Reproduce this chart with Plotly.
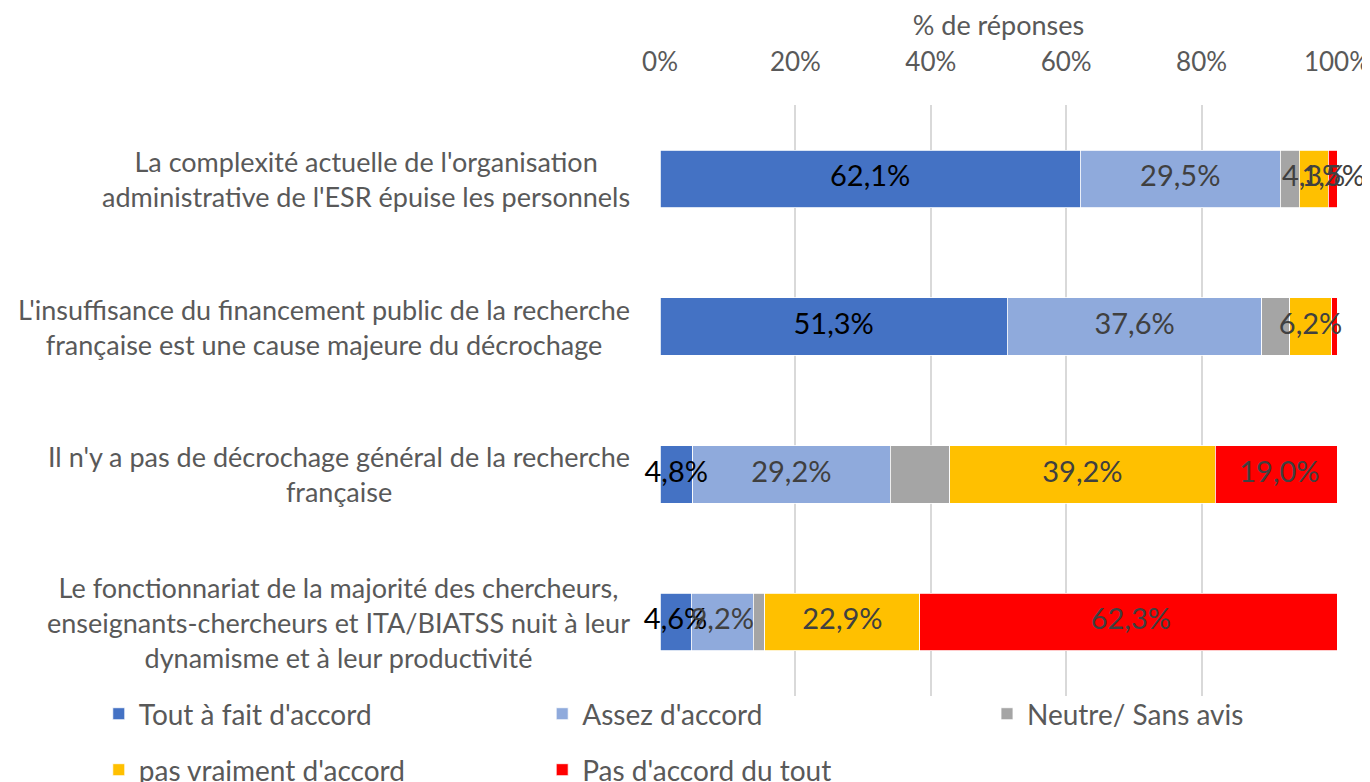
import plotly.graph_objects as go

categories = [
    "La complexité actuelle de l'organisation<br>administrative de l'ESR épuise les personnels",
    "L'insuffisance du financement public de la recherche<br>française est une cause majeure du décrochage",
    "Il n'y a pas de décrochage général de la recherche<br>française",
    "Le fonctionnariat de la majorité des chercheurs,<br>enseignants-chercheurs et ITA/BIATSS nuit à leur<br>dynamisme et à leur productivité",
]
series_names = ["Tout à fait d'accord", "Assez d'accord", "Neutre/ Sans avis",
                "pas vraiment d'accord", "Pas d'accord du tout"]
tout = [62.1, 51.3, 4.8, 4.6]
assez = [29.5, 37.6, 29.2, 9.2]
neutre = [2.8, 4.1, 8.8, 1.7]
pas_vraiment = [4.3, 6.2, 39.2, 22.9]
pas_du_tout = [1.5, 0.8, 19.0, 62.3]
series_values = [tout, assez, neutre, pas_vraiment, pas_du_tout]
# which data labels are shown
label_shown = [
    [True, True, True, True],
    [True, True, True, True],
    [False, False, False, False],
    [True, True, True, True],
    [True, False, True, True],
]
colors = ["#4472C4", "#8FAADC", "#A5A5A5", "#FFC000", "#FF0000"]
label_colors = ["#000000", "#404040", "#404040", "#404040", "#404040"]
tick_vals = [0, 20, 40, 60, 80, 100]
tick_text = ["0%", "20%", "40%", "60%", "80%", "100%"]

FONT = "Lato, Liberation Sans, sans-serif"
cat_ids = list(range(len(categories)))

# legend slots: (x in paper, y in paper) – 3 items on first row, 2 on second
legend_pos = [(-0.829, -0.0305), (-0.174, -0.0305), (0.483, -0.0305),
              (-0.829, -0.1252), (-0.174, -0.1252)]

fig = go.Figure()
for i, (name, vals) in enumerate(zip(series_names, series_values)):
    fig.add_trace(go.Bar(
        name=name, y=cat_ids, x=vals, orientation="h",
        marker=dict(color=colors[i], line=dict(color="white", width=0.8)),
        width=0.39, legend="legend" if i == 0 else f"legend{i + 1}",
        hoverinfo="x+name",
    ))

# data labels centred on each segment
base = [0.0] * len(categories)
for i, vals in enumerate(series_values):
    xs, ys, txt = [], [], []
    for j, v in enumerate(vals):
        if label_shown[i][j]:
            xs.append(base[j] + v / 2)
            ys.append(j)
            txt.append(f"{v:.1f}%".replace(".", ","))
        base[j] += v
    fig.add_trace(go.Scatter(
        x=xs, y=ys, text=txt, mode="text", showlegend=False,
        textfont=dict(family=FONT, size=29, color=label_colors[i]),
        cliponaxis=False, hoverinfo="skip",
    ))

for j, c in enumerate(categories):
    fig.add_annotation(
        x=-0.0413, xref="paper", y=j, yref="y", text=c, showarrow=False,
        xanchor="right", yanchor="middle", align="center",
        font=dict(family=FONT, size=27, color="#595959"),
    )

legends = {}
for i, (lx, ly) in enumerate(legend_pos):
    key = "legend" if i == 0 else f"legend{i + 1}"
    legends[key] = dict(
        x=lx, xanchor="left", y=ly, yanchor="middle",
        font=dict(family=FONT, size=28, color="#595959"),
        bgcolor="rgba(0,0,0,0)", itemclick=False, itemdoubleclick=False,
    )

fig.update_layout(
    width=1370, height=782,
    margin=dict(l=652, r=41, t=97, b=94, autoexpand=False),
    barmode="stack",
    plot_bgcolor="white", paper_bgcolor="white",
    font=dict(family=FONT, color="#595959"),
    xaxis=dict(
        side="top", range=[0, 100], tickvals=tick_vals, ticktext=tick_text,
        showgrid=True, gridcolor="#D9D9D9", gridwidth=1.5, zeroline=False,
        tickfont=dict(size=26, color="#595959"), ticklabelstandoff=28,
        title=dict(text="% de réponses", font=dict(size=27, color="#595959"), standoff=3),
        fixedrange=True,
    ),
    yaxis=dict(
        tickvals=cat_ids, showticklabels=False,
        showgrid=False, zeroline=False, range=[3.5, -0.5], fixedrange=True,
    ),
    showlegend=True,
    **legends,
)

fig.write_html("out.html")
